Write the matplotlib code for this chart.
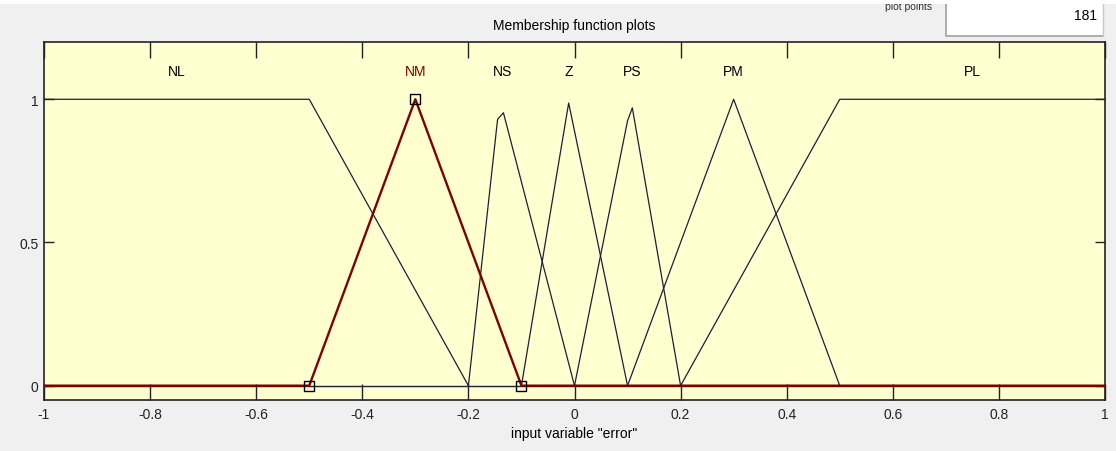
import matplotlib.pyplot as plt
from matplotlib.patches import Rectangle
from matplotlib.lines import Line2D

# membership functions of input "error" (vertices)
mf_names = ["NL", "NM", "NS", "Z", "PS", "PM", "PL"]
mf_x = [
    [-1.0, -0.5, -0.2],
    [-0.5, -0.3, -0.1],
    [-0.2, -0.145, -0.134, 0.0],
    [-0.1, -0.011, 0.1],
    [0.0, 0.10, 0.109, 0.2],
    [0.1, 0.3, 0.5],
    [0.2, 0.5, 1.0],
]
mf_y = [
    [1.0, 1.0, 0.0],
    [0.0, 1.0, 0.0],
    [0.0, 0.93, 0.953, 0.0],
    [0.0, 0.987, 0.0],
    [0.0, 0.925, 0.97, 0.0],
    [0.0, 1.0, 0.0],
    [0.0, 1.0, 1.0],
]
label_x = [-0.75, -0.3, -0.135, -0.011, 0.109, 0.3, 0.75]
selected = "NM"
x_ticks = [-1, -0.8, -0.6, -0.4, -0.2, 0, 0.2, 0.4, 0.6, 0.8, 1]
x_ticklabels = ["-1", "-0.8", "-0.6", "-0.4", "-0.2", "0", "0.2", "0.4", "0.6", "0.8", "1"]
y_ticks = [0, 0.5, 1]
y_ticklabels = ["0", "0.5", "1"]
plot_points = 181

plt.rcParams['font.family'] = ['Liberation Sans Narrow', 'Liberation Sans', 'DejaVu Sans']

fig = plt.figure(figsize=(11.16, 4.52), dpi=100, facecolor='#f0f0f0')
ax = fig.add_axes([44 / 1116, 51 / 452, 1061 / 1116, 358 / 452])
ax.set_facecolor('#ffffd0')

line_col = '#1e1e3c'
red = '#800000'

# baseline
ax.plot([-1, 1], [0, 0], color=line_col, lw=1.0, zorder=2)

for name, xs, ys, lx in zip(mf_names, mf_x, mf_y, label_x):
    if name == selected:
        ax.plot([-1] + xs + [1], [0] + ys + [0], color=red, lw=1.7, zorder=4)
        ax.plot(xs, ys, ls='none', marker='s', ms=7, mfc='none',
                mec='black', mew=1.0, zorder=5)
        ax.text(lx, 1.1, name, color=red, ha='center', va='center', fontsize=10)
    else:
        ax.plot(xs, ys, color=line_col, lw=0.9, zorder=3)
        ax.text(lx, 1.1, name, color='black', ha='center', va='center', fontsize=10)

ax.set_xlim(-1, 1)
ax.set_ylim(-0.05, 1.2)
ax.set_xticks(x_ticks)
ax.set_xticklabels(x_ticklabels)
ax.set_yticks(y_ticks)
ax.set_yticklabels(y_ticklabels)
ax.tick_params(axis='x', direction='in', length=11.5, width=1, top=True,
               pad=5, labelsize=10, colors='#222222')
ax.tick_params(axis='y', direction='in', length=7, width=1, right=True,
               pad=4, labelsize=10, colors='#222222')
for s in ax.spines.values():
    s.set_linewidth(1.2)
    s.set_color('#222222')

ax.set_xlabel('input variable "error"', fontsize=10, labelpad=4)
fig.text(574.5 / 1116, 1 - 26 / 452, "Membership function plots",
         ha='center', va='center', fontsize=10)

# top strip and "plot points" box
fig.patches.append(Rectangle((946 / 1116, 1 - 37 / 452), (1103 - 946) / 1116, 37 / 452,
                             transform=fig.transFigure, facecolor='white',
                             edgecolor='none'))
fig.lines.append(Line2D([946 / 1116, 946 / 1116, 1103 / 1116],
                        [1.0, 1 - 37 / 452, 1 - 37 / 452],
                        transform=fig.transFigure, color='#a0a0a0', lw=1.2))
fig.lines.append(Line2D([1103 / 1116, 1103 / 1116], [1.0, 1 - 37 / 452],
                        transform=fig.transFigure, color='#c8c8c8', lw=1.0))
fig.text(1097 / 1116, 1 - 16 / 452, str(plot_points), ha='right', va='center', fontsize=10)
fig.text(909 / 1116, 1 - 10 / 452, "plot points", ha='center', va='baseline',
         fontsize=7.5, color='#333333')
strip = Rectangle((0, 1 - 5 / 452), 1, 5 / 452, transform=fig.transFigure,
                  facecolor='white', edgecolor='none', zorder=10)
fig.patches.append(strip)

fig.savefig("out.png", dpi=100, facecolor=fig.get_facecolor())
